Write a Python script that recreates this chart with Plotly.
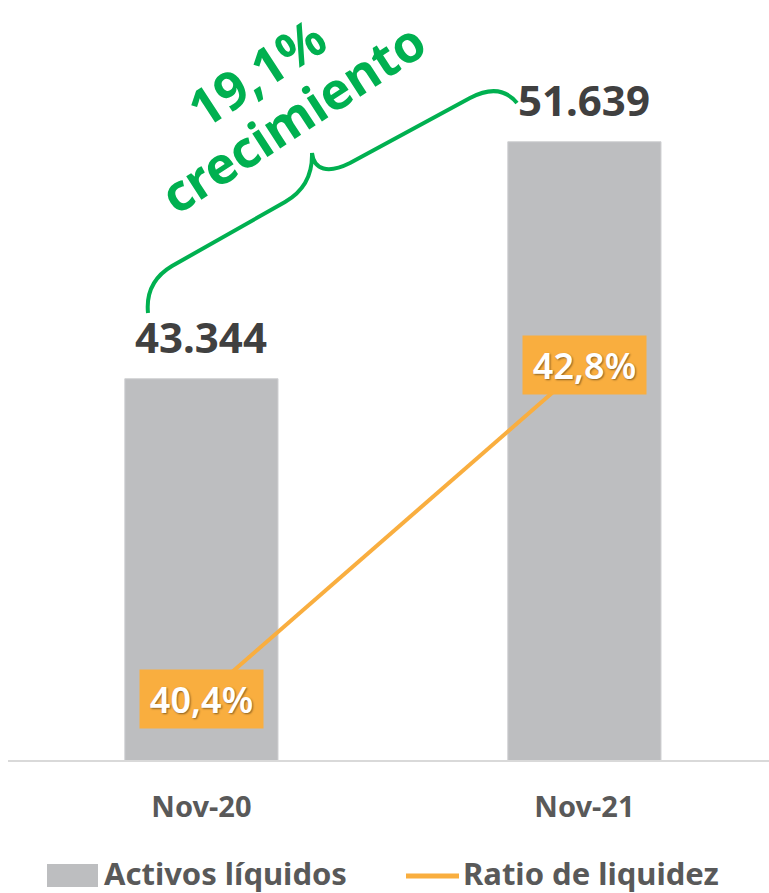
import plotly.graph_objects as go

# ---- data ----
categories = ["Nov-20", "Nov-21"]
activos = [43344, 51639]
ratio = [40.4, 42.8]
series_names = ["Activos líquidos", "Ratio de liquidez"]
growth_pct = "19,1%"
growth_word = "crecimiento"

GRAY = "#BDBEC0"
ORANGE = "#F9AE3F"
GREEN = "#00B050"
DARK = "#404040"
MID = "#595959"
FONT = "Noto Sans"

W, H = 769, 893
ML, MR, MT, MB = 8, 0, 0, 133
PW, PH = W - ML - MR, H - MT - MB


def px(x):
    return (x - ML) / PW


def py(y):
    return (H - MB - y) / PH


fig = go.Figure()
fig.add_trace(go.Bar(x=categories, y=activos, name=series_names[0],
                     marker=dict(color=GRAY, line=dict(color="#D0D1D3", width=1)),
                     width=0.4, showlegend=False, hoverinfo="skip"))
fig.add_trace(go.Scatter(x=categories, y=ratio, name=series_names[1], yaxis="y2",
                         mode="lines", line=dict(color=ORANGE, width=4),
                         showlegend=False, hoverinfo="skip"))

annotations = []
# value labels above bars
for c, v in zip(categories, activos):
    annotations.append(dict(x=c, y=v, xref="x", yref="y", yanchor="bottom",
                            text=f"{v:,}".replace(",", "."), showarrow=False,
                            yshift=12,
                            font=dict(family=FONT, size=42, color=DARK, weight="bold")))
# ratio labels in orange boxes
for c, r in zip(categories, ratio):
    annotations.append(dict(x=c, y=r, xref="x", yref="y2",
                            text=f"{r:.1f}".replace(".", ",") + "%",
                            showarrow=False, bgcolor=ORANGE, borderpad=0,
                            width=123, height=58,
                            font=dict(family=FONT, size=36, color="white",
                                      weight=600, shadow="1px 1px 2px rgba(0,0,0,0.45)")))
# growth text (two rotated lines)
annotations.append(dict(x=px(256), y=py(71), xref="paper", yref="paper",
                        text=growth_pct, showarrow=False, textangle=-33,
                        xanchor="center", yanchor="middle", borderpad=0,
                        font=dict(family=FONT, size=52, color=GREEN, weight="bold")))
annotations.append(dict(x=px(292), y=py(117), xref="paper", yref="paper",
                        text=growth_word, showarrow=False, textangle=-33,
                        xanchor="center", yanchor="middle", borderpad=0,
                        font=dict(family=FONT, size=51, color=GREEN, weight="bold")))
# custom legend
annotations.append(dict(x=px(102), y=py(873), xref="paper", yref="paper",
                        xanchor="left", yanchor="middle", showarrow=False,
                        text=series_names[0],
                        font=dict(family=FONT, size=31, color=MID, weight="bold")))
annotations.append(dict(x=px(461), y=py(873), xref="paper", yref="paper",
                        xanchor="left", yanchor="middle", showarrow=False,
                        text=series_names[1],
                        font=dict(family=FONT, size=31, color=MID, weight="bold")))


def P(x, y):
    return f"{px(x):.5f},{py(y):.5f}"


brace = ("M" + P(148, 313) + " Q" + P(145, 282) + " " + P(172, 266) +
         " L" + P(285, 202) + " Q" + P(313, 186) + " " + P(312, 153) +
         " C" + P(314, 170) + " " + P(328, 174) + " " + P(350, 163) +
         " L" + P(470, 98) + " Q" + P(500, 82) + " " + P(517, 103))

shapes = [
    dict(type="path", path=brace, xref="paper", yref="paper",
         line=dict(color=GREEN, width=4), layer="above"),
    dict(type="rect", xref="paper", yref="paper",
         x0=px(47), x1=px(98), y0=py(864), y1=py(887),
         fillcolor=GRAY, line=dict(width=0)),
    dict(type="line", xref="paper", yref="paper",
         x0=px(406), x1=px(459), y0=py(876), y1=py(876),
         line=dict(color=ORANGE, width=5)),
]

fig.update_layout(
    width=W, height=H,
    margin=dict(l=ML, r=MR, t=MT, b=MB),
    paper_bgcolor="white", plot_bgcolor="white",
    font=dict(family=FONT),
    xaxis=dict(type="category", range=[-0.505, 1.482], showgrid=False,
               showline=True, linecolor="#D9D9D9", linewidth=2, ticks="",
               ticklabelstandoff=20,
               tickfont=dict(family=FONT, size=29, color=MID, weight="bold")),
    yaxis=dict(range=[30000, 56600], visible=False, showgrid=False),
    yaxis2=dict(range=[39.96, 45.42], overlaying="y", visible=False, showgrid=False),
    annotations=annotations,
    shapes=shapes,
    showlegend=False,
)

fig.write_html("out.html", config={"displayModeBar": False},
               post_script="document.body.style.margin='0';document.body.style.overflow='hidden';")
